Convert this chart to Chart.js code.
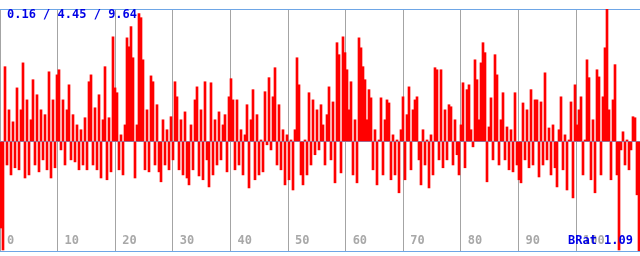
<!DOCTYPE html>
<html>
<head>
<meta charset="utf-8">
<script src="https://cdn.jsdelivr.net/npm/chart.js@4.4.1/dist/chart.umd.min.js"></script>
<style>
  html, body { margin: 0; padding: 0; background: #fff; }
  #wrap { width: 640px; height: 256px; }
</style>
</head>
<body>
<div id="wrap"><canvas id="c" width="640" height="256"></canvas></div>
<script>
// ratio samples left to right
const samples = [
  1.06, 0.20, 7.38, 3.53, 5.69, 3.14, 5.22, 3.42, 6.55, 3.34,
  5.69, 7.53, 3.02, 6.08, 3.14, 5.30, 6.87, 3.53, 6.28, 3.26,
  5.69, 3.73, 5.50, 3.34, 7.18, 3.02, 6.08, 3.42, 7.06, 7.26,
  4.12, 6.08, 3.53, 5.69, 6.67, 3.73, 5.50, 3.65, 5.10, 3.34,
  4.91, 3.53, 5.38, 3.34, 6.79, 7.06, 3.53, 5.77, 3.34, 6.28,
  3.02, 5.30, 7.38, 2.95,
  5.38, 3.26, 8.55, 6.55, 6.36, 3.34, 4.71, 3.14, 5.10, 8.51,
  8.16, 8.95, 7.73, 3.02, 5.10, 9.46, 9.30, 7.65, 3.34, 5.69,
  3.26, 7.02, 6.79, 3.53, 5.89, 3.26, 2.87, 5.30, 3.53, 4.91,
  3.34, 5.42, 3.73, 6.79, 6.20, 3.34, 5.30, 3.14, 5.61, 3.02,
  2.75, 5.10, 3.34, 6.08, 6.59, 3.10, 5.69, 2.95, 6.79, 3.73,
  2.67, 6.75, 3.14,
  5.30, 3.53, 5.61, 3.73, 5.10, 5.50, 3.26, 6.20, 6.91, 6.08,
  3.34, 6.08, 3.53, 4.91, 3.14, 4.71, 5.89, 2.63, 5.30, 6.48,
  2.95, 5.50, 3.14, 4.51, 3.26, 6.40, 4.32, 6.95, 4.12, 6.20,
  7.34, 3.53, 5.89, 3.34, 4.91, 2.75, 4.71, 2.95, 4.51, 2.55,
  4.91, 7.73, 6.67, 3.14, 2.75, 4.51, 3.14, 6.36, 3.53, 6.08,
  3.93, 5.69, 4.12, 5.89,
  5.10, 3.53, 5.50, 6.59, 3.73, 6.00, 2.83, 8.32, 7.85, 3.22,
  8.55, 7.93, 7.26, 5.69, 6.79, 3.14, 5.30, 2.83, 8.51, 8.12,
  7.38, 6.87, 5.30, 6.48, 6.16, 3.34, 4.91, 2.75, 4.51, 6.16,
  3.14, 5.30, 6.08, 5.96, 2.95, 4.71, 3.14, 4.51, 2.44, 4.91,
  6.20, 2.95, 5.50, 6.59, 3.34, 5.69, 6.08, 6.20, 3.73, 2.75,
  4.91, 3.53, 4.51,
  2.63, 4.71, 3.14, 7.34, 7.26, 3.73, 7.26, 3.42, 5.69, 3.73,
  5.89, 5.81, 3.53, 5.30, 3.93, 3.14, 5.10, 6.75, 3.42, 6.48,
  6.67, 4.91, 4.24, 7.65, 6.87, 5.30, 7.53, 8.32, 7.93, 2.87,
  5.02, 6.16, 3.73, 7.85, 7.06, 3.53, 5.30, 6.36, 3.73, 5.02,
  3.34, 4.91, 3.26, 6.36, 3.53, 2.95, 2.83, 5.96, 3.73, 5.69,
  3.42, 6.48, 3.53, 6.08,
  6.08, 3.06, 6.00, 3.53, 7.14, 3.73, 4.98, 3.14, 5.10, 3.42,
  2.67, 4.91, 6.20, 3.34, 4.71, 2.55, 4.51, 6.00, 2.24, 6.67,
  5.10, 5.69, 6.20, 3.14, 4.51, 7.65, 6.95, 2.95, 5.30, 2.44,
  7.26, 6.98, 3.14, 6.20, 8.12, 9.64, 5.69, 2.95, 6.08, 7.46,
  3.14, 0.20, 4.12, 4.83, 3.53, 4.51, 3.34, 4.12, 5.42, 5.38,
  2.36, 0.16
];

// min / avg / max reference lines
const refLines = [0.16, 4.45, 9.64];
const statsText = '0.16 / 4.45 / 9.64';
const ratioText = 'BRat 1.09';

// x grid and its labels
const xTickLabels = ['0', '10', '20', '30', '40', '50', '60', '70', '80', '90', '100'];
const xMax = 111.1;

const labels = samples.map((v, i) => i);

const overlay = {
  id: 'overlay',
  afterDraw(chart) {
    const ctx = chart.ctx;
    const xs = chart.scales.x2;
    ctx.save();
    ctx.font = 'bold 12px "DejaVu Sans Mono", monospace';
    ctx.textBaseline = 'middle';

    // axis labels inside the plot, bottom
    ctx.fillStyle = '#a8a8a8';
    ctx.textAlign = 'left';
    xTickLabels.forEach(t => {
      ctx.fillText(t, xs.getPixelForValue(Number(t)) + 7, 241);
    });

    ctx.fillStyle = '#0000e6';
    ctx.fillText(statsText, 7, 15);
    ctx.textAlign = 'right';
    ctx.fillText(ratioText, 633, 241);
    ctx.restore();
  }
};

new Chart(document.getElementById('c'), {
  type: 'bar',
  data: {
    labels: labels,
    datasets: [{
      data: samples,
      base: refLines[1],
      backgroundColor: '#ff0000',
      borderWidth: 0,
      barPercentage: 1,
      categoryPercentage: 1
    }]
  },
  options: {
    responsive: false,
    animation: false,
    events: [],
    layout: { padding: { top: 9, bottom: 5, left: 0, right: 0 } },
    plugins: { legend: { display: false }, tooltip: { enabled: false } },
    scales: {
      x: { display: false },
      x2: {
        type: 'linear',
        position: 'bottom',
        min: 0,
        max: xMax,
        offset: false,
        z: 1,
        ticks: { display: false, stepSize: 10, padding: 0 },
        grid: { color: '#a4a4a4', drawTicks: false, lineWidth: 1, offset: false },
        border: { display: false }
      },
      y: {
        min: refLines[0],
        max: refLines[2],
        z: 1,
        afterBuildTicks: s => { s.ticks = refLines.map(v => ({ value: v })); },
        ticks: { display: false, padding: 0 },
        grid: { color: '#6ea6e6', drawTicks: false, lineWidth: 1 },
        border: { display: false }
      }
    }
  },
  plugins: [overlay]
});
</script>
</body>
</html>
